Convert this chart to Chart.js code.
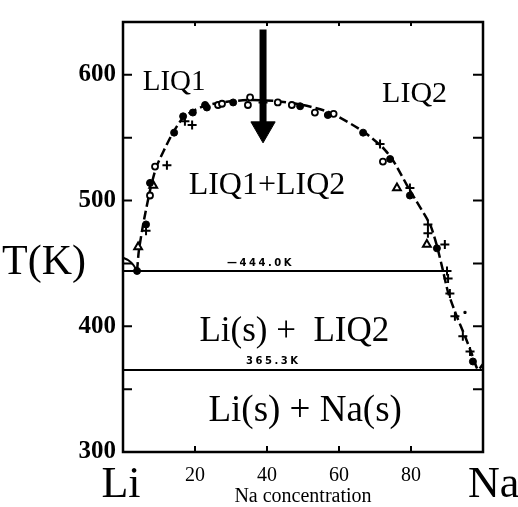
<!DOCTYPE html>
<html>
<head>
<meta charset="utf-8">
<script src="https://cdn.jsdelivr.net/npm/chart.js@4.4.1/dist/chart.umd.min.js"></script>
<style>
  body { margin: 0; background: #fff; }
  canvas { display: block; }
</style>
</head>
<body>
<canvas id="chart" width="518" height="507"></canvas>
<script>
// measured points, [Na concentration, T(K)]
const filledCircles = [[3.9,444],[6.4,481],[7.5,514],[14.2,554],[16.7,567],[19.4,570],[22.8,576],[23.3,574],[30.6,578],[49.2,575],[56.9,568],[66.7,554],[74.2,533],[79.7,504],[87.2,462],[97.2,372]];
const openCircles = [[7.5,504],[8.9,527],[26.4,576],[27.5,577],[34.7,576],[35.3,582],[43,578],[46.9,576],[53.3,570],[58.5,569],[72.2,531]];
const plusSigns = [[6.4,476],[12.2,528],[17.2,563],[19.2,560],[38.9,578],[71.4,545],[79.7,510],[84.7,481],[84.7,474],[89.4,465],[90,444],[90.3,438],[90.8,426],[92.2,408],[94.4,392],[96.4,380]];
const triangles = [[4.2,463],[8.4,512],[76.1,510],[84.4,465]];
const squares = [[95,411]];

// miscibility gap boundary
const gapCurve = [[3.9,444],[4.4,460],[5.6,481],[7.5,508],[9.3,527],[13.5,552],[16.7,566],[20,572],[23.3,576],[30,579],[36,580],[43,579],[50,576],[57.5,570],[66.7,555],[72.2,542],[75,532],[79.7,508],[85.3,481],[87.2,464],[88.9,444],[90.3,427],[92.7,408],[95,392],[96.9,378],[98.6,365.3],[100,370]];
const liLiquidus = [[0,454.5],[1.5,452.5],[2.8,449],[3.9,444]];

// isotherms
const isothermT = [444.0, 365.3];
const isothermEnd = [88.9, 100];

// arrow
const arrowX = 38.9;
const arrowShaft = [636, 561];
const arrowHeadT = 557;

const xTicks = [20, 40, 60, 80];
const yTicks = [300, 400, 500, 600];

const serif = "'Liberation Serif', 'Times New Roman', serif";

const toXY = arr => arr.map(p => ({ x: p[0], y: p[1] }));

const regionLabels = [
  { text: 'LIQ1', x: 14.2, y: 594, size: 29 },
  { text: 'LIQ2', x: 81, y: 585, size: 30 },
  { text: 'LIQ1+LIQ2', x: 40, y: 512, size: 32 },
  { text: 'Li(s) +  LIQ2', x: 47.6, y: 395.5, size: 35 },
  { text: 'Li(s) + Na(s)', x: 50.6, y: 332, size: 37 }
];
const isothermLabelX = [28.9, 34.2];

const decor = {
  id: 'decor',
  afterDraw(chart) {
    const { ctx, chartArea: a, scales: { x, y } } = chart;
    ctx.save();
    ctx.strokeStyle = '#000';
    ctx.fillStyle = '#000';

    // frame
    ctx.lineWidth = 2.5;
    ctx.strokeRect(a.left, a.top, a.right - a.left, a.bottom - a.top);

    // inward ticks
    ctx.lineWidth = 2;
    ctx.beginPath();
    y.ticks.forEach(t => {
      if (t.value % 50 !== 0 || t.value === 300) return;
      const py = y.getPixelForValue(t.value);
      ctx.moveTo(a.left, py); ctx.lineTo(a.left + 9, py);
      ctx.moveTo(a.right, py); ctx.lineTo(a.right - 10, py);
    });
    xTicks.forEach(v => {
      const px = x.getPixelForValue(v);
      ctx.moveTo(px, a.bottom); ctx.lineTo(px, a.bottom - 6);
      ctx.moveTo(px, a.top); ctx.lineTo(px, a.top + 4);
    });
    ctx.stroke();

    // region labels
    ctx.textAlign = 'center';
    ctx.textBaseline = 'middle';
    regionLabels.forEach(l => {
      ctx.font = `${l.size}px ${serif}`;
      ctx.fillText(l.text, x.getPixelForValue(l.x), y.getPixelForValue(l.y));
    });

    // isotherm labels
    ctx.font = "bold 10px 'DejaVu Sans', sans-serif";
    ctx.letterSpacing = '2.5px';
    ctx.textAlign = 'left';
    ctx.textBaseline = 'bottom';
    isothermT.forEach((t, i) => {
      const txt = (i === 0 ? '\u2014' : '') + t.toFixed(1) + 'K';
      ctx.fillText(txt, x.getPixelForValue(isothermLabelX[i]), y.getPixelForValue(t) - 3);
    });
    ctx.letterSpacing = '0px';

    // axis names
    ctx.textBaseline = 'middle';
    ctx.font = `42px ${serif}`;
    ctx.textAlign = 'left';
    ctx.fillText('T(K)', 2, y.getPixelForValue(450));
    ctx.font = `44px ${serif}`;
    ctx.textAlign = 'center';
    ctx.fillText('Li', a.left - 2, 485);
    ctx.textAlign = 'left';
    ctx.fillText('Na', a.right - 15, 485);
    ctx.restore();
  }
};

const lineDefaults = { showLine: true, pointRadius: 0, fill: false, borderColor: '#000' };

new Chart(document.getElementById('chart'), {
  type: 'scatter',
  data: {
    datasets: [
      { data: toXY(filledCircles), pointStyle: 'circle', pointRadius: 3.5, backgroundColor: '#000', borderColor: '#000', borderWidth: 1 },
      { data: toXY(openCircles), pointStyle: 'circle', pointRadius: 3, backgroundColor: '#fff', borderColor: '#000', borderWidth: 1.8 },
      { data: toXY(plusSigns), pointStyle: 'cross', pointRadius: 4.5, borderColor: '#000', borderWidth: 2 },
      { data: toXY(triangles), pointStyle: 'triangle', pointRadius: 4.5, backgroundColor: '#fff', borderColor: '#000', borderWidth: 2 },
      { data: toXY(squares), pointStyle: 'rect', pointRadius: 1.5, backgroundColor: '#000', borderColor: '#000', borderWidth: 1 },
      { data: [{ x: arrowX, y: arrowHeadT }], pointStyle: 'triangle', rotation: 180, pointRadius: 14, backgroundColor: '#000', borderColor: '#000', borderWidth: 1 },
      { ...lineDefaults, data: arrowShaft.map(v => ({ x: arrowX, y: v })), borderWidth: 7, borderCapStyle: 'butt' },
      { ...lineDefaults, data: toXY(gapCurve), borderWidth: 2.5, borderDash: [9, 4], tension: 0.2 },
      { ...lineDefaults, data: toXY(liLiquidus), borderWidth: 2, tension: 0.3 },
      ...isothermT.map((t, i) => ({ ...lineDefaults, data: [{ x: 0, y: t }, { x: isothermEnd[i], y: t }], borderWidth: 2 }))
    ]
  },
  options: {
    responsive: false,
    animation: false,
    devicePixelRatio: 1,
    layout: { padding: { left: 0, right: 35, top: 10, bottom: 0 } },
    plugins: { legend: { display: false }, tooltip: { enabled: false } },
    scales: {
      x: {
        type: 'linear', min: 0, max: 100,
        grid: { display: false, drawTicks: false },
        border: { display: false },
        ticks: {
          stepSize: 20, autoSkip: false, maxRotation: 0, padding: 12, color: '#000',
          font: { family: serif, size: 20 },
          callback: v => xTicks.includes(v) ? v : ''
        },
        title: { display: true, text: 'Na concentration', color: '#000', padding: 0, font: { family: serif, size: 20, lineHeight: 1 } },
        afterFit: s => { s.height = 55; }
      },
      y: {
        type: 'linear', min: 300, max: 642,
        grid: { display: false, drawTicks: false },
        border: { display: false },
        ticks: {
          stepSize: 50, autoSkip: false, padding: 7, color: '#000',
          font: { family: serif, size: 25, weight: 'bold' },
          callback: v => yTicks.includes(v) ? v : ''
        },
        afterFit: s => { s.width = 123; }
      }
    }
  },
  plugins: [decor]
});
</script>
</body>
</html>
